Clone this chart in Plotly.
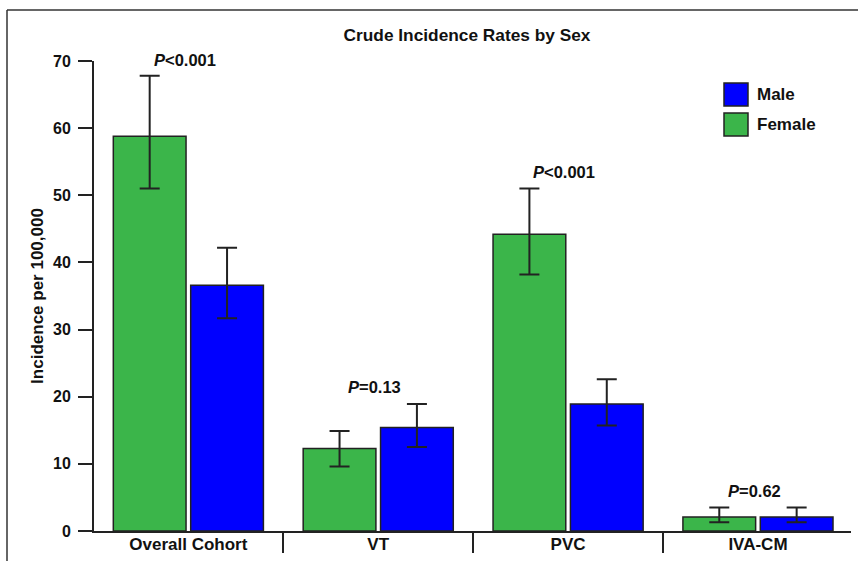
import plotly.graph_objects as go

# ---- data ----
categories = ["Overall Cohort", "VT", "PVC", "IVA-CM"]
series_names = ["Female", "Male"]
female_rate = [58.8, 12.3, 44.2, 2.1]
female_upper = [67.8, 14.9, 51.0, 3.5]
female_lower = [51.0, 9.6, 38.2, 1.3]
male_rate = [36.6, 15.4, 18.9, 2.1]
male_upper = [42.2, 18.9, 22.6, 3.5]
male_lower = [31.7, 12.5, 15.7, 1.3]
p_labels = ["<i>P</i>&lt;0.001", "<i>P</i>=0.13", "<i>P</i>&lt;0.001", "<i>P</i>=0.62"]
p_label_y = [69.9, 21.4, 53.5, 6.0]
y_ticks = [0, 10, 20, 30, 40, 50, 60, 70]

# ---- styles ----
W, H = 858, 561
L, R, T, B = 94, 7, 61, 30
FONT = "Liberation Sans, Arial, sans-serif"
DARK = "#222222"
GREEN = "#3bb54a"
BLUE = "#0000ff"
colors = {"Female": GREEN, "Male": BLUE}

def px_x(px):
    return (px - L) / (W - L - R)

def px_y(py):
    return (H - B - py) / (H - T - B)

fig = go.Figure()
for name, vals, up, lo in [("Female", female_rate, female_upper, female_lower),
                           ("Male", male_rate, male_upper, male_lower)]:
    fig.add_trace(go.Bar(
        x=categories, y=vals, name=name, showlegend=False,
        marker=dict(color=colors[name], line=dict(color=DARK, width=1.5)),
        error_y=dict(type="data", symmetric=False,
                     array=[u - v for u, v in zip(up, vals)],
                     arrayminus=[v - l for v, l in zip(vals, lo)],
                     color=DARK, thickness=2, width=10),
    ))

annotations = []
for i, (txt, yy) in enumerate(zip(p_labels, p_label_y)):
    annotations.append(dict(x=i - 0.02, y=yy, xref="x", yref="y", text=f"<b>{txt}</b>",
                            showarrow=False, yanchor="middle", xanchor="center",
                            yshift=2 if i == 0 else 0,
                            font=dict(family=FONT, size=16.5, color="#111")))

# legend drawn with larger swatches
shapes = []
legend_items = [("Male", 83), ("Female", 113)]
for name, top in legend_items:
    shapes.append(dict(type="rect", xref="paper", yref="paper",
                       x0=px_x(724), x1=px_x(748), y0=px_y(top + 23), y1=px_y(top),
                       fillcolor=colors[name], line=dict(color=DARK, width=1.5)))
    annotations.append(dict(x=px_x(755), y=px_y(top + 11.5), xref="paper", yref="paper",
                            text=f"<b>{name}</b>", showarrow=False, xanchor="left",
                            yanchor="middle",
                            font=dict(family=FONT, size=17, color="#111")))

# outer frame (top and left edges)
shapes.append(dict(type="line", xref="paper", yref="paper",
                   x0=px_x(7), x1=px_x(W + 5), y0=px_y(10), y1=px_y(10),
                   line=dict(color="#333", width=1.5)))
shapes.append(dict(type="line", xref="paper", yref="paper",
                   x0=px_x(7), x1=px_x(7), y0=px_y(10), y1=px_y(H + 5),
                   line=dict(color="#333", width=1.5)))

fig.update_layout(
    width=W, height=H,
    margin=dict(l=L, r=R, t=T, b=B, pad=0),
    paper_bgcolor="white", plot_bgcolor="white",
    barmode="group", bargap=0.185, bargroupgap=0.06,
    title=dict(text="<b>Crude Incidence Rates by Sex</b>", x=px_x(467), xref="paper",
               xanchor="center", y=1 - 35 / H, yanchor="middle",
               font=dict(family=FONT, size=17.3, color="#111")),
    font=dict(family=FONT, color="#111"),
    showlegend=False,
    annotations=annotations, shapes=shapes,
)
fig.update_xaxes(type="category", range=[-0.497, 3.49], showline=True, linecolor=DARK,
                 linewidth=2, ticks="outside", tickson="boundaries", ticklen=20,
                 tickwidth=2, tickcolor=DARK, showgrid=False, zeroline=False,
                 tickvals=categories, ticktext=[f"<b>{c}</b>" for c in categories],
                 tickfont=dict(family=FONT, size=17, color="#111"),
                 ticklabelstandoff=-3)
fig.update_yaxes(range=[0, 70], showline=True, linecolor=DARK, linewidth=2,
                 ticks="outside", ticklen=14, tickwidth=2, tickcolor=DARK,
                 showgrid=False, zeroline=False,
                 tickvals=y_ticks, ticktext=[f"<b>{v}</b>" for v in y_ticks],
                 tickfont=dict(family=FONT, size=16, color="#111"),
                 ticklabelstandoff=4,
                 title=dict(text="<b>Incidence per 100,000</b>", standoff=5,
                            font=dict(family=FONT, size=17, color="#111")))

fig.write_html("out.html", config={"displayModeBar": False},
               post_script="document.body.style.margin='0';")
